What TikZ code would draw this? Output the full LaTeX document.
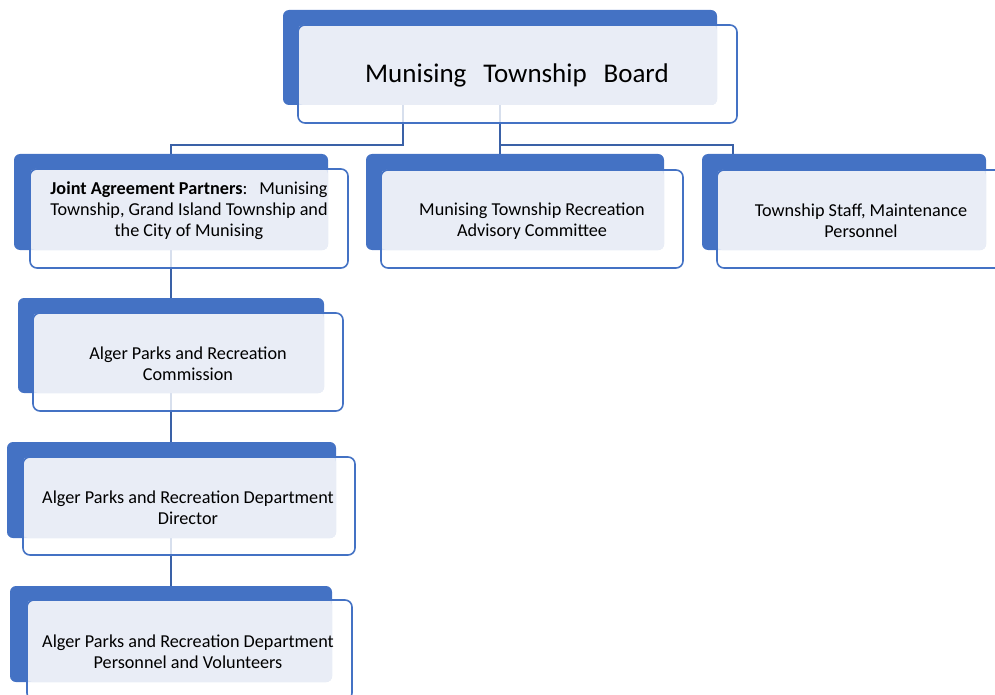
\documentclass[tikz,border=0pt]{standalone}
\usepackage{fontspec}
\setmainfont{Carlito}
\usetikzlibrary{backgrounds}
\definecolor{bl}{HTML}{4472C4}
\definecolor{lt}{HTML}{E9EDF6}
\tikzset{
  backbox/.style={shape=rectangle, fill=bl, rounded corners=6pt, inner sep=0pt, outer sep=0pt, anchor=north west},
  frontfill/.style={shape=rectangle, fill=white, fill opacity=0.8, rounded corners=7pt, inner sep=0pt, outer sep=0pt, anchor=north west},
  lightfill/.style={fill=lt, rounded corners=5pt},
  frontline/.style={draw=bl, line width=1.6pt, rounded corners=7pt},
  conn/.style={draw=bl!85!black, line width=1.6pt},
  txt/.style={align=center, inner sep=0pt, font=\fontsize{18.2}{21}\selectfont, text=black},
}
\newcommand\orgbox[9]{%
  \node[backbox, minimum width=#4pt, minimum height=#5pt] (#1-b) at (#2,#3) {};
  \node[frontfill, minimum width=#8pt, minimum height=#9pt] (#1-f) at (#6,#7) {};
  \fill[lightfill] (#1-f.north west) rectangle (#1-b.south east);
  \draw[frontline] (#1-f.north west) rectangle (#1-f.south east);
}
\begin{document}
\begin{tikzpicture}[x=1pt, y=-1pt]
\useasboundingbox (0,0) rectangle (995,695);
\orgbox{top}{283}{10}{434}{95}{298}{25}{439}{98}
\orgbox{jap}{14}{154}{314}{96}{30}{169}{318}{99}
\orgbox{mid}{366}{154}{298}{96}{381}{170}{302}{98}
\orgbox{rt}{702}{154}{284}{96}{717}{170}{300}{98}
\orgbox{com}{18}{298}{306}{95}{33}{313}{310}{98}
\orgbox{dir}{7}{442}{329}{96}{23}{457}{332}{98}
\orgbox{per}{10}{586}{322}{96}{27}{600}{325}{100}

\node[txt, font=\fontsize{27}{30}\selectfont] (top-t) at (517,75) {Munising\hspace{0.4em} Township\hspace{0.4em} Board};
\node[txt] (jap-t) at (189,211) {\textbf{Joint Agreement Partners}:\hspace{0.35em} Munising\\Township, Grand Island Township and\\the City of Munising};
\node[txt] (mid-t) at (532,221) {Munising Township Recreation\\Advisory Committee};
\node[txt] (rt-t) at (861,221) {Township Staff, Maintenance\\Personnel};
\node[txt] (com-t) at (188,364) {Alger Parks and Recreation\\Commission};
\node[txt] (dir-t) at (188,508) {Alger Parks and Recreation Department\\Director};
\node[txt] (per-t) at (188,652) {Alger Parks and Recreation Department\\Personnel and Volunteers};

\coordinate (j1) at (403,145);
\coordinate (j2) at (500,145);
\coordinate (j3) at (733,154);
\begin{pgfonlayer}{background}
\draw[conn] (top-b.south -| j1) -- (j1) -| (jap-b.north);
\draw[conn] (top-b.south) -- (top-b.south |- mid-b.north);
\draw[conn] (j2) -| (j3);
\draw[conn] (jap-b.south) -- (jap-b.south |- com-b.north);
\draw[conn] (com-b.south -| jap-b.south) -- (dir-b.north -| jap-b.south);
\draw[conn] (dir-b.south -| jap-b.south) -- (per-b.north -| jap-b.south);
\end{pgfonlayer}
\end{tikzpicture}
\end{document}
